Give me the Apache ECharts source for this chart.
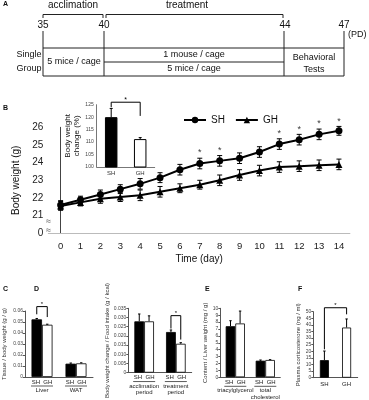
<!DOCTYPE html>
<html>
<head>
<meta charset="utf-8">
<script src="https://cdn.jsdelivr.net/npm/echarts@6/dist/echarts.min.js"></script>
<style>
  html, body { margin: 0; padding: 0; background: #fff; }
  #chart { width: 369px; height: 400px; }
</style>
</head>
<body>
<div id="chart"></div>
<script>
// ---- data ----
const days = [0, 1, 2, 3, 4, 5, 6, 7, 8, 9, 10, 11, 12, 13, 14];
const dayLabels = ['0', '1', '2', '3', '4', '5', '6', '7', '8', '9', '10', '11', '12', '13', '14'];
const shWeight = [21.6, 21.9, 22.2, 22.5, 22.8, 23.15, 23.6, 23.95, 24.1, 24.25, 24.6, 25.05, 25.3, 25.6, 25.8];
const shErr = [0.25, 0.2, 0.25, 0.25, 0.3, 0.28, 0.3, 0.3, 0.3, 0.3, 0.3, 0.3, 0.3, 0.3, 0.25];
const ghWeight = [21.55, 21.75, 21.95, 22.05, 22.15, 22.35, 22.55, 22.75, 23.0, 23.3, 23.55, 23.75, 23.8, 23.85, 23.9];
const ghErr = [0.25, 0.2, 0.25, 0.25, 0.3, 0.3, 0.25, 0.25, 0.3, 0.3, 0.3, 0.3, 0.3, 0.3, 0.3];
const sigDays = [7, 8, 11, 12, 13, 14];

const insetGroups = ['SH', 'GH'];
const insetChange = [120, 111.2];
const insetErr = [3.5, 0.6];

const cCats = ['Liver', 'WAT'];
const cSH = [0.0524, 0.0121];
const cGH = [0.0475, 0.0124];
const cSHErr = [0.0008, 0.0006];
const cGHErr = [0.0005, 0.0005];

const dCats = ['acclimation\nperiod', 'treatment\nperiod'];
const dSH = [0.0279, 0.0221];
const dGH = [0.0279, 0.0157];
const dSHErr = [0.004, 0.0011];
const dGHErr = [0.003, 0.0006];

const eCats = ['triacylglycerol', 'total\ncholesterol'];
const eSH = [7.4, 2.4];
const eGH = [7.8, 2.5];
const eSHErr = [0.8, 0.1];
const eGHErr = [1.8, 0.05];

const fCats = ['SH', 'GH'];
const fValues = [13.3, 38];
const fErr = [6.9, 6.5];

// brackets: [left cat, right cat, top, left leg end, right leg end]
const insetSig = [0, 1, 126, 124, 120.5];
const cSig = [0, 0, 0.064, 0.057, 0.0545];
const dSig = [1, 1, 0.031, 0.024, 0.018];
const fSig = [0, 1, 53, 21.5, 48];

// ---- helpers ----
const FONT = 'Liberation Sans, Arial, sans-serif';
const chart = echarts.init(document.getElementById('chart'));

function errorBars(offset, cap, both) {
  return function (params, api) {
    const lo = api.coord([api.value(0), api.value(1)]);
    const hi = api.coord([api.value(0), api.value(2)]);
    const x = lo[0] + offset;
    const style = { stroke: '#000', lineWidth: 1 };
    const kids = [
      { type: 'line', shape: { x1: x, y1: lo[1], x2: x, y2: hi[1] }, style },
      { type: 'line', shape: { x1: x - cap, y1: hi[1], x2: x + cap, y2: hi[1] }, style }
    ];
    if (both) kids.push({ type: 'line', shape: { x1: x - cap, y1: lo[1], x2: x + cap, y2: lo[1] }, style });
    return { type: 'group', children: kids };
  };
}

function bracket(offL, offR, starSize) {
  return function (params, api) {
    const l = api.coord([api.value(0), api.value(2)]);
    const r = api.coord([api.value(1), api.value(2)]);
    const lb = api.coord([api.value(0), api.value(3)]);
    const rb = api.coord([api.value(1), api.value(4)]);
    const xl = l[0] + offL, xr = r[0] + offR;
    return {
      type: 'group',
      children: [
        { type: 'polyline', shape: { points: [[xl, lb[1]], [xl, l[1]], [xr, l[1]], [xr, rb[1]]] },
          style: { stroke: '#000', fill: null, lineWidth: 1 } },
        { type: 'text', style: { text: '*', x: (xl + xr) / 2, y: l[1] + 1, align: 'center', verticalAlign: 'bottom',
          fontSize: starSize, fill: '#000', fontFamily: FONT } }
      ]
    };
  };
}

function upperErr(vals, errs) {
  return vals.map((v, i) => [i, v, v + errs[i]]);
}

const smallLabel = { fontSize: 5, color: '#444', fontFamily: FONT, margin: 2 };
function groupLabel(v) {
  return '{s|SH  GH}\n{u| }\n{n|' + v.replace('\n', '}\n{n|') + '}';
}
const groupRich = {
  s: { fontSize: 6, color: '#222', fontFamily: FONT, lineHeight: 6 },
  u: { width: 22, height: 0.8, backgroundColor: '#333', lineHeight: 2 },
  n: { fontSize: 6, color: '#222', fontFamily: FONT, lineHeight: 6.5 }
};
function smallY(gi, max, interval, name, gap, fmt) {
  return {
    type: 'value', gridIndex: gi, min: 0, max: max, interval: interval,
    name: name, nameLocation: 'middle', nameGap: gap,
    nameTextStyle: { fontSize: 6, color: '#333', fontFamily: FONT },
    axisLine: { show: true, lineStyle: { color: '#555', width: 1 } },
    axisTick: { show: true, length: 2, lineStyle: { color: '#555' } },
    axisLabel: Object.assign({ formatter: fmt }, smallLabel),
    splitLine: { show: false }
  };
}
function groupX(gi, cats) {
  return {
    type: 'category', gridIndex: gi, data: cats,
    axisLine: { lineStyle: { color: '#555', width: 1 } },
    axisTick: { show: false },
    axisLabel: { interval: 0, margin: 2, formatter: groupLabel, rich: groupRich }
  };
}

// ---- panel A (schematic) ----
const lineStyle = { stroke: '#222', lineWidth: 1 };
function seg(x1, y1, x2, y2) { return { type: 'line', shape: { x1, y1, x2, y2 }, style: lineStyle, silent: true }; }
function txt(t, x, y, size, extra) {
  return { type: 'text', style: Object.assign({ text: t, x, y, fontSize: size || 10, fill: '#111', fontFamily: FONT,
    align: 'center', verticalAlign: 'middle' }, extra || {}) };
}
const panelA = [
  txt('A', 3, 4, 7, { align: 'left', fontWeight: 'bold' }),
  txt('acclimation', 73, 5, 10), txt('treatment', 187, 5, 10),
  seg(43, 14.5, 103, 14.5), seg(43, 14.5, 43, 18), seg(103, 14.5, 103, 18),
  seg(106, 14.5, 283, 14.5), seg(106, 14.5, 106, 18), seg(283, 14.5, 283, 18),
  txt('35', 43, 25, 10), txt('40', 104, 25, 10), txt('44', 285, 25, 10), txt('47', 344, 25, 10),
  txt('(PD)', 348, 35, 9, { align: 'left' }),
  seg(43, 31, 43, 76), seg(104, 31, 104, 76), seg(284, 31, 284, 76), seg(344, 31, 344, 76),
  seg(43, 48, 344, 48), seg(104, 62, 284, 62), seg(43, 76, 344, 76),
  txt('Single', 29, 55, 9), txt('Group', 29, 69, 9),
  txt('5 mice / cage', 74, 62, 9),
  txt('1 mouse / cage', 194, 55, 9), txt('5 mice / cage', 194, 69, 9),
  txt('Behavioral', 314, 58, 9), txt('Tests', 314, 70, 9)
];

const letters = [
  txt('B', 3, 108, 7, { align: 'left', fontWeight: 'bold' }),
  txt('C', 3, 289, 7, { align: 'left', fontWeight: 'bold' }),
  txt('D', 34, 289, 7, { align: 'left', fontWeight: 'bold' }),
  txt('E', 205, 289, 7, { align: 'left', fontWeight: 'bold' }),
  txt('F', 298, 289, 7, { align: 'left', fontWeight: 'bold' }),
  txt('≈', 48.5, 222, 9, { backgroundColor: '#fff', fill: '#555' }),
  txt('≈', 48.5, 231, 9, { backgroundColor: '#fff', fill: '#555' })
];

const option = {
  animation: false,
  textStyle: { fontFamily: FONT },
  graphic: panelA.concat(letters),
  legend: {
    data: ['SH', 'GH'], left: 178, top: 110, itemWidth: 22, itemHeight: 8, itemGap: 10,
    textStyle: { fontSize: 10, color: '#111', fontFamily: FONT }
  },
  grid: [
    { left: 48.3, top: 127.3, width: 301.6, height: 106 },
    { left: 96.7, top: 104.7, width: 58, height: 62.3 },
    { left: 24, top: 311, width: 69, height: 66 },
    { left: 128.3, top: 308.3, width: 63.4, height: 68.7 },
    { left: 220.3, top: 308.3, width: 60, height: 69.4 },
    { left: 313.3, top: 311.7, width: 44.4, height: 66 }
  ],
  xAxis: [
    { type: 'value', gridIndex: 0, min: -0.62, max: 14.55,
      name: 'Time (day)', nameLocation: 'middle', nameGap: 21,
      nameTextStyle: { fontSize: 10, color: '#111', fontFamily: FONT },
      axisLine: { lineStyle: { color: '#bbb' } }, axisTick: { show: false }, splitLine: { show: false },
      axisLabel: { customValues: days, formatter: v => dayLabels[days.indexOf(v)], fontSize: 9.5, color: '#222', margin: 8 } },
    { type: 'category', gridIndex: 1, data: insetGroups,
      axisLine: { lineStyle: { color: '#777' } }, axisTick: { show: false },
      axisLabel: { fontSize: 6, color: '#333', margin: 3 } },
    groupX(2, cCats), groupX(3, dCats), groupX(4, eCats),
    { type: 'category', gridIndex: 5, data: fCats,
      axisLine: { lineStyle: { color: '#555' } }, axisTick: { show: false },
      axisLabel: { fontSize: 6, color: '#222', margin: 4 } }
  ],
  yAxis: [
    { type: 'value', gridIndex: 0, min: 20, max: 26, interval: 1,
      name: 'Body weight (g)', nameLocation: 'middle', nameGap: 17,
      nameTextStyle: { fontSize: 10, color: '#111', fontFamily: FONT },
      axisLine: { show: true, lineStyle: { color: '#444' } }, axisTick: { show: false }, splitLine: { show: false },
      axisLabel: { formatter: v => (v === 20 ? '0' : String(v)), fontSize: 10, color: '#222', margin: 5 } },
    { type: 'value', gridIndex: 1, min: 100, max: 125, interval: 5,
      name: 'Body weight\nchange (%)', nameLocation: 'middle', nameGap: 15,
      nameTextStyle: { fontSize: 8, color: '#111', fontFamily: FONT, lineHeight: 9 },
      axisLine: { show: true, lineStyle: { color: '#777' } }, axisTick: { show: false }, splitLine: { show: false },
      axisLabel: { fontSize: 5, color: '#444', margin: 3 } },
    smallY(2, 0.06, 0.01, 'Tissue / body weight (g / g)', 18, v => (v === 0 ? '0' : v.toFixed(2))),
    smallY(3, 0.035, 0.005, 'Body weight change / Food intake (g / kcal)', 18, v => (v === 0 ? '0' : v.toFixed(3))),
    smallY(4, 10, 1, 'Content / Liver weight (mg / g)', 8, v => String(v)),
    smallY(5, 50, 5, 'Plasma corticosterone (ng / ml)', 9, v => String(v))
  ],
  series: [
    // B main
    { name: 'SH', type: 'line', xAxisIndex: 0, yAxisIndex: 0, data: days.map((d, i) => [d, shWeight[i]]),
      symbol: 'circle', symbolSize: 7, lineStyle: { color: '#000', width: 2 }, itemStyle: { color: '#000' }, z: 5 },
    { name: 'GH', type: 'line', xAxisIndex: 0, yAxisIndex: 0, data: days.map((d, i) => [d, ghWeight[i]]),
      symbol: 'triangle', symbolSize: 7, lineStyle: { color: '#000', width: 2 }, itemStyle: { color: '#000' }, z: 5 },
    { type: 'custom', xAxisIndex: 0, yAxisIndex: 0, renderItem: errorBars(0, 2.5, true), encode: { x: 0, y: [1, 2] },
      data: days.map((d, i) => [d, shWeight[i] - shErr[i], shWeight[i] + shErr[i]]), z: 4 },
    { type: 'custom', xAxisIndex: 0, yAxisIndex: 0, renderItem: errorBars(0, 2.5, true), encode: { x: 0, y: [1, 2] },
      data: days.map((d, i) => [d, ghWeight[i] - ghErr[i], ghWeight[i] + ghErr[i]]), z: 4 },
    { type: 'scatter', xAxisIndex: 0, yAxisIndex: 0, symbolSize: 0, clip: false,
      data: sigDays.map(d => [d, shWeight[d] + shErr[d] + 0.3]),
      label: { show: true, formatter: '*', position: 'inside', fontSize: 9, color: '#000' } },

    // inset
    { type: 'bar', xAxisIndex: 1, yAxisIndex: 1, barWidth: 12.5,
      data: insetChange.map((v, i) => ({ value: v, itemStyle: { color: i === 0 ? '#000' : '#fff', borderColor: '#000', borderWidth: 1 } })) },
    { type: 'custom', xAxisIndex: 1, yAxisIndex: 1, renderItem: errorBars(0, 1.5, false), encode: { x: 0, y: [1, 2] },
      data: upperErr(insetChange, insetErr) },
    { type: 'custom', xAxisIndex: 1, yAxisIndex: 1, renderItem: bracket(0, 0, 7), encode: { x: [0, 1], y: [2, 3, 4] },
      data: [insetSig] },

    // C
    { type: 'bar', xAxisIndex: 2, yAxisIndex: 2, barWidth: 10.5, barGap: '0%', data: cSH,
      itemStyle: { color: '#000', borderColor: '#000', borderWidth: 0.8 } },
    { type: 'bar', xAxisIndex: 2, yAxisIndex: 2, barWidth: 10.5, barGap: '0%', data: cGH,
      itemStyle: { color: '#fff', borderColor: '#000', borderWidth: 0.8 } },
    { type: 'custom', xAxisIndex: 2, yAxisIndex: 2, renderItem: errorBars(-5.25, 1.2, false), encode: { x: 0, y: [1, 2] },
      data: upperErr(cSH, cSHErr) },
    { type: 'custom', xAxisIndex: 2, yAxisIndex: 2, renderItem: errorBars(5.25, 1.2, false), encode: { x: 0, y: [1, 2] },
      data: upperErr(cGH, cGHErr) },
    { type: 'custom', xAxisIndex: 2, yAxisIndex: 2, renderItem: bracket(-5.25, 5.25, 6), encode: { x: [0, 1], y: [2, 3, 4] },
      data: [cSig] },

    // D
    { type: 'bar', xAxisIndex: 3, yAxisIndex: 3, barWidth: 9.8, barGap: '0%', data: dSH,
      itemStyle: { color: '#000', borderColor: '#000', borderWidth: 0.8 } },
    { type: 'bar', xAxisIndex: 3, yAxisIndex: 3, barWidth: 9.8, barGap: '0%', data: dGH,
      itemStyle: { color: '#fff', borderColor: '#000', borderWidth: 0.8 } },
    { type: 'custom', xAxisIndex: 3, yAxisIndex: 3, renderItem: errorBars(-4.9, 1.2, false), encode: { x: 0, y: [1, 2] },
      data: upperErr(dSH, dSHErr) },
    { type: 'custom', xAxisIndex: 3, yAxisIndex: 3, renderItem: errorBars(4.9, 1.2, false), encode: { x: 0, y: [1, 2] },
      data: upperErr(dGH, dGHErr) },
    { type: 'custom', xAxisIndex: 3, yAxisIndex: 3, renderItem: bracket(-4.9, 4.9, 6), encode: { x: [0, 1], y: [2, 3, 4] },
      data: [dSig] },

    // E
    { type: 'bar', xAxisIndex: 4, yAxisIndex: 4, barWidth: 9.6, barGap: '0%', data: eSH,
      itemStyle: { color: '#000', borderColor: '#000', borderWidth: 0.8 } },
    { type: 'bar', xAxisIndex: 4, yAxisIndex: 4, barWidth: 9.6, barGap: '0%', data: eGH,
      itemStyle: { color: '#fff', borderColor: '#000', borderWidth: 0.8 } },
    { type: 'custom', xAxisIndex: 4, yAxisIndex: 4, renderItem: errorBars(-4.8, 1.2, false), encode: { x: 0, y: [1, 2] },
      data: upperErr(eSH, eSHErr) },
    { type: 'custom', xAxisIndex: 4, yAxisIndex: 4, renderItem: errorBars(4.8, 1.2, false), encode: { x: 0, y: [1, 2] },
      data: upperErr(eGH, eGHErr) },

    // F
    { type: 'bar', xAxisIndex: 5, yAxisIndex: 5, barWidth: 9,
      data: fValues.map((v, i) => ({ value: v, itemStyle: { color: i === 0 ? '#000' : '#fff', borderColor: '#000', borderWidth: 0.8 } })) },
    { type: 'custom', xAxisIndex: 5, yAxisIndex: 5, renderItem: errorBars(0, 1.2, false), encode: { x: 0, y: [1, 2] },
      data: upperErr(fValues, fErr) },
    { type: 'custom', xAxisIndex: 5, yAxisIndex: 5, renderItem: bracket(0, 0, 6), encode: { x: [0, 1], y: [2, 3, 4] },
      data: [fSig] }
  ]
};

chart.setOption(option);
</script>
</body>
</html>
